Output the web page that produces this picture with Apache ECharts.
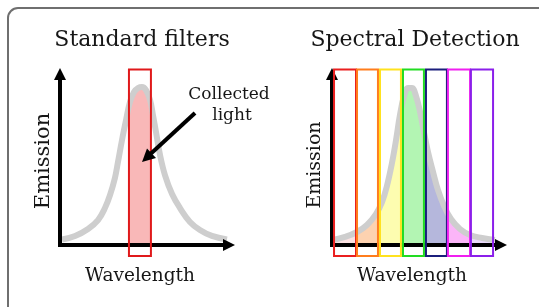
<!DOCTYPE html>
<html>
<head>
<meta charset="utf-8">
<script src="https://cdn.jsdelivr.net/npm/echarts@6/dist/echarts.min.js"></script>
<style>
  html, body { margin: 0; padding: 0; background: #fff; }
  #chart { width: 539px; height: 307px; }
</style>
</head>
<body>
<div id="chart"></div>
<script>
// emission curve, [wavelength, emission] on a 0..100 scale
const leftCurve = [
  [1.2, 3.2], [8.9, 5.3], [16.6, 9.4], [22.5, 14.6], [26.6, 21.6], [29.6, 29.2],
  [32.5, 39.2], [34.3, 48.5], [36.7, 61.4], [39.1, 73.1], [41.4, 83.6], [43.8, 89.5],
  [46.2, 91.8], [48.5, 92.4], [50.9, 90.6], [53.3, 84.8], [55.0, 76.0], [56.8, 66.1],
  [59.2, 52.6], [62.1, 40.9], [66.3, 29.8], [71.0, 21.6], [76.9, 13.5], [82.8, 8.8],
  [89.9, 5.3], [98.8, 3.2]
];
const rightCurve = [
  [0.6, 2.9], [7.7, 4.7], [14.8, 7.6], [20.7, 11.7], [26.0, 18.1], [29.6, 25.1],
  [32.5, 34.5], [35.5, 48.0], [37.9, 61.4], [40.2, 76.0], [42.6, 87.1], [45.0, 91.8],
  [47.3, 91.8], [49.7, 87.1], [52.1, 77.8], [54.4, 66.1], [56.8, 54.4], [59.8, 42.7],
  [62.7, 32.2], [66.3, 22.8], [70.4, 15.2], [75.7, 9.4], [81.7, 5.8], [88.8, 4.1],
  [96.4, 2.9]
];
// filter windows [from, to]
const leftBands = [[40.8, 53.8]];
const rightBands = [
  [1.2, 14.2], [14.8, 27.2], [28.4, 40.8], [42.0, 54.4],
  [55.6, 68.0], [68.6, 81.7], [82.2, 95.3]
];
const leftStroke = ['#e0191b'];
const leftFill = ['#f9b8b8'];
const rightStroke = ['#ea1f1f', '#ff7d1c', '#ffe21e', '#22dc22', '#1b1e7c', '#f01ff0', '#8b1fea'];
const rightFill = ['#fbe2e2', '#fdd2b0', '#fdfdb0', '#b3f5b3', '#b5b7dc', '#fbb5f8', '#eadbfb'];

const serif = 'DejaVu Serif';

function bandSeries(gridIdx, bands, colors, filled) {
  return {
    type: 'custom',
    xAxisIndex: gridIdx,
    yAxisIndex: gridIdx,
    z: filled ? 1 : 6,
    silent: true,
    data: bands,
    renderItem: function (params, api) {
      const bottom = filled ? 0 : -6.4;
      const top = filled ? 100 : 102.6;
      const p0 = api.coord([api.value(0), top]);
      const p1 = api.coord([api.value(1), bottom]);
      const c = colors[params.dataIndex];
      return {
        type: 'rect',
        shape: { x: p0[0], y: p0[1], width: p1[0] - p0[0], height: p1[1] - p0[1] },
        style: filled ? { fill: c } : { fill: 'none', stroke: c, lineWidth: 2 }
      };
    }
  };
}

function curveSeries(gridIdx, data) {
  return [
    {
      // white cover above the curve so fills only show beneath it
      type: 'line',
      xAxisIndex: gridIdx,
      yAxisIndex: gridIdx,
      z: 2,
      data: data,
      smooth: 0.4,
      symbol: 'none',
      silent: true,
      lineStyle: { width: 0 },
      areaStyle: { color: '#fff', opacity: 1, origin: 'end' }
    },
    {
      type: 'line',
      xAxisIndex: gridIdx,
      yAxisIndex: gridIdx,
      z: 3,
      data: data,
      smooth: 0.4,
      symbol: 'none',
      silent: true,
      lineStyle: { color: '#cecece', width: 6 }
    }
  ];
}

function axis(gridIdx) {
  return {
    type: 'value',
    gridIndex: gridIdx,
    min: 0,
    max: 100,
    z: 4,
    axisLine: {
      show: true,
      symbol: ['none', 'triangle'],
      symbolSize: [12, 12],
      lineStyle: { color: '#000', width: 4, cap: 'square' }
    },
    axisTick: { show: false },
    axisLabel: { show: false },
    splitLine: { show: false }
  };
}

function label(text, x, y, size, rot) {
  return {
    type: 'text',
    x: x,
    y: y,
    z: 10,
    rotation: rot || 0,
    style: {
      text: text,
      fontFamily: serif,
      fontSize: size,
      fill: '#161616',
      textAlign: 'center',
      textVerticalAlign: 'middle'
    }
  };
}

const chart = echarts.init(document.getElementById('chart'));
chart.setOption({
  backgroundColor: '#fff',
  animation: false,
  grid: [
    { left: 60, top: 74, width: 169, height: 171 },
    { left: 332, top: 74, width: 169, height: 171 }
  ],
  xAxis: [axis(0), axis(1)],
  yAxis: [axis(0), axis(1)],
  series: [
    bandSeries(0, leftBands, leftFill, true),
    bandSeries(1, rightBands, rightFill, true),
    ...curveSeries(0, leftCurve),
    ...curveSeries(1, rightCurve),
    bandSeries(0, leftBands, leftStroke, false),
    bandSeries(1, rightBands, rightStroke, false)
  ],
  graphic: [
    {
      type: 'rect',
      shape: { x: 8, y: 8, width: 545, height: 310, r: 10 },
      style: { fill: 'none', stroke: '#6f6f6f', lineWidth: 2 }
    },
    label('Standard filters', 142, 40, 22),
    label('Spectral Detection', 415, 40, 22),
    label('Emission', 44, 161, 21, Math.PI / 2),
    label('Emission', 315, 165, 19, Math.PI / 2),
    label('Wavelength', 140, 276, 18.5),
    label('Wavelength', 412, 276, 18.5),
    label('Collected', 229, 95, 17),
    label('light', 232, 116, 17),
    {
      type: 'line',
      shape: { x1: 195, y1: 113, x2: 151, y2: 153.5 },
      style: { stroke: '#000', lineWidth: 4 },
      z: 10
    },
    {
      type: 'polygon',
      shape: { points: [[142, 162], [156, 158], [147, 148.5]] },
      style: { fill: '#000' },
      z: 10
    }
  ]
});
</script>
</body>
</html>
